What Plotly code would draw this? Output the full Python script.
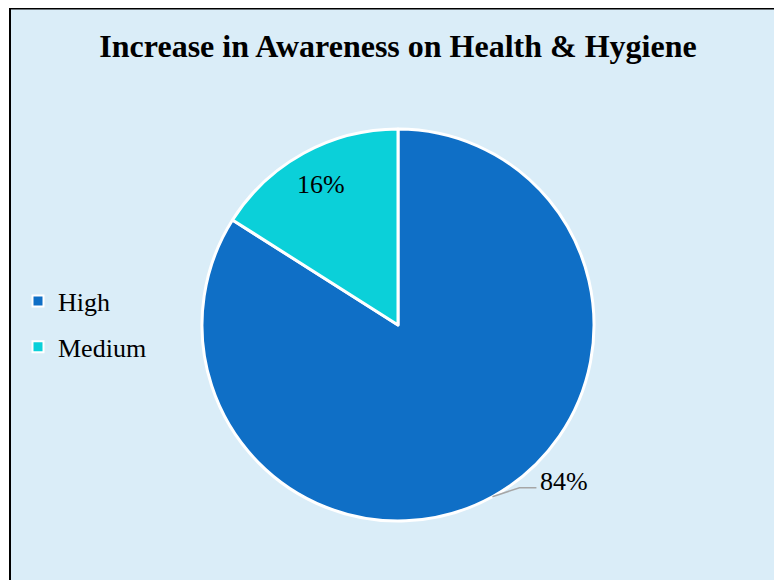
import math
import plotly.graph_objects as go

labels = ['High', 'Medium']
values = [84, 16]
colors = ['#0F6FC6', '#0BD0D9']

W, H = 782, 580
OFF = 8  # page body margin offsets the figure
cx, cy, R = 398 - OFF, 325 - OFF, 196  # pie centre and radius in figure pixels


def px(x):
    return x / W


def py(y):
    return 1 - y / H


fig = go.Figure()
fig.add_trace(go.Pie(
    labels=labels, values=values, sort=False, direction='clockwise', rotation=0,
    marker=dict(colors=colors, line=dict(color='white', width=3)),
    textinfo='none', hoverinfo='label+percent', showlegend=False,
    domain=dict(x=[px(cx - R), px(cx + R)], y=[py(cy + R), py(cy - R)]),
))

# legend entries (separate groups so the gap between them can be set)
for lab, col in zip(labels, colors):
    fig.add_trace(go.Scatter(
        x=[None], y=[None], mode='markers', name=lab, legendgroup=lab,
        marker=dict(symbol='square', size=11, color=col, line=dict(color='white', width=2)),
    ))

# percentage labels placed at slice mid-angles
total = sum(values)
start = 0
ann = []
shapes = []
for v in values:
    frac = v / total
    mid = (start + frac / 2) * 2 * math.pi
    start += frac
    pct = f"{round(frac * 100)}%"
    if frac > 0.5:
        ex, ey = cx + R * math.sin(mid), cy - R * math.cos(mid)
        kx, ky = ex + 27, ey - 9
        lx, ly = kx + 17, ky
        shapes.append(dict(type='path', xref='paper', yref='paper',
                           path=f"M {px(ex)} {py(ey)} L {px(kx)} {py(ky)} L {px(lx)} {py(ly)}",
                           line=dict(color='#A6A6A6', width=1.5)))
        ann.append(dict(x=px(lx + 2), y=py(ly - 6), xref='paper', yref='paper',
                        text=pct, showarrow=False, xanchor='left', yanchor='middle',
                        font=dict(family='Liberation Serif', size=26, color='black')))
    else:
        r = R * 0.82
        tx, ty = cx + r * math.sin(mid), cy - r * math.cos(mid)
        ann.append(dict(x=px(tx), y=py(ty), xref='paper', yref='paper',
                        text=pct, showarrow=False, xanchor='center', yanchor='middle',
                        font=dict(family='Liberation Serif', size=26, color='black')))

# background panel with border
shapes.insert(0, dict(type='rect', xref='paper', yref='paper', layer='below',
                      x0=px(10 - OFF), x1=1.02, y0=-0.02, y1=py(0.5),
                      fillcolor='#DAEDF8', line=dict(color='black', width=2)))

fig.update_layout(
    width=W, height=H,
    margin=dict(l=0, r=0, t=0, b=0),
    paper_bgcolor='white', plot_bgcolor='rgba(0,0,0,0)',
    xaxis=dict(visible=False), yaxis=dict(visible=False),
    title=dict(text='<b>Increase in Awareness on Health & Hygiene</b>', x=px(398 - OFF), xanchor='center',
               y=py(46 - OFF), yanchor='middle',
               font=dict(family='Liberation Serif', size=32, color='black')),
    legend=dict(x=px(10), y=py(324 - OFF), xanchor='left', yanchor='middle',
                itemwidth=30, tracegroupgap=9,
                font=dict(family='Liberation Serif', size=26, color='black'),
                bgcolor='rgba(0,0,0,0)'),
    shapes=shapes, annotations=ann,
)

fig.write_html("out.html")
